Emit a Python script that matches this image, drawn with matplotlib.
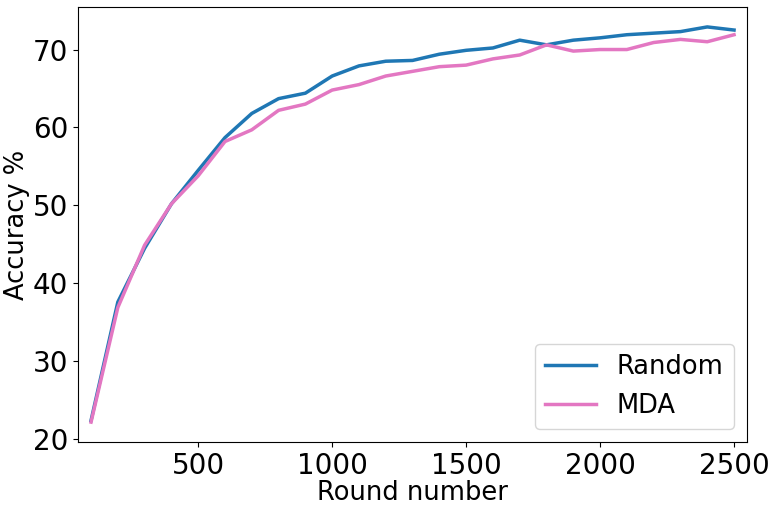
import matplotlib.pyplot as plt

rounds = list(range(100, 2600, 100))

acc_random = [22.4, 37.6, 44.5, 50.2, 54.5, 58.7, 61.8, 63.7, 64.4, 66.6,
              67.9, 68.5, 68.6, 69.4, 69.9, 70.2, 71.2, 70.6, 71.2, 71.5,
              71.9, 72.1, 72.3, 72.9, 72.5]
acc_mda = [22.2, 36.9, 44.9, 50.2, 53.8, 58.2, 59.7, 62.2, 63.0, 64.8,
           65.5, 66.6, 67.2, 67.8, 68.0, 68.8, 69.3, 70.6, 69.8, 70.0,
           70.0, 70.9, 71.3, 71.0, 71.9]

fig, ax = plt.subplots(figsize=(7.74, 5.12), dpi=100)
ax.plot(rounds, acc_random, color='tab:blue', linewidth=2.5, label='Random')
ax.plot(rounds, acc_mda, color='tab:pink', linewidth=2.5, label='MDA')

ax.margins(x=0.02)
ax.set_xlabel('Round number', fontsize=18.5, labelpad=0)
ax.set_ylabel('Accuracy %', fontsize=18.5, labelpad=2)
ax.tick_params(labelsize=20)
ax.legend(fontsize=18.5, loc='lower right')

plt.subplots_adjust(left=0.101, right=0.965, top=0.986, bottom=0.137)
plt.savefig('out.png', dpi=100)
